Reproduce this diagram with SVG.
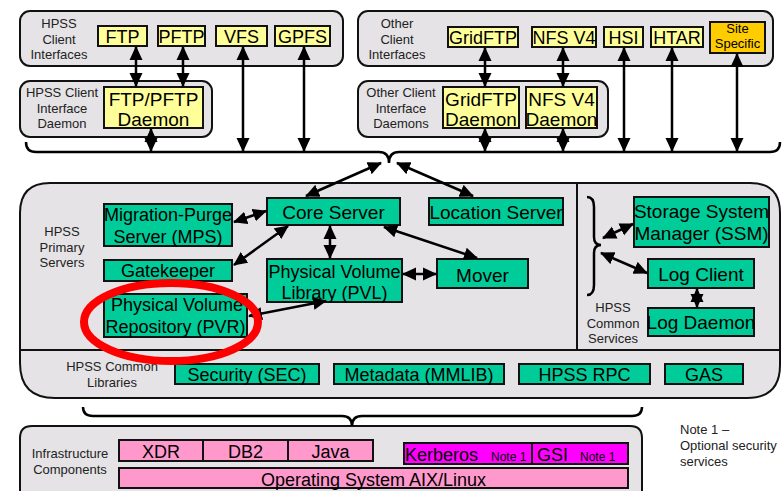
<svg xmlns="http://www.w3.org/2000/svg" width="782" height="491" viewBox="0 0 782 491">
<style>
text{font-family:"Liberation Sans",Arial,sans-serif;}
.grp{fill:#E5E3E5;stroke:#111;stroke-width:2;}
.lbl{font-size:13px;fill:#222;text-anchor:middle;}
.y{fill:#FFFF99;stroke:#111;stroke-width:2;}
.o{fill:#FFCC00;stroke:#111;stroke-width:2;}
.g{fill:#00CC99;stroke:#111;stroke-width:2;}
.p{fill:#FF99CC;stroke:#111;stroke-width:2;}
.m{fill:#FF00FF;stroke:#111;stroke-width:2;}
.t{font-size:18px;fill:#000;text-anchor:middle;}
.t19{font-size:19px;fill:#000;text-anchor:middle;}
.sm{font-size:12px;fill:#000;}
.ln{fill:none;stroke:#000;stroke-width:2.5;}
.ar{fill:none;stroke:#000;stroke-width:2.5;marker-start:url(#ah);marker-end:url(#ah);}
</style>
<defs>
<marker id="ah" viewBox="0 0 14 14" refX="13" refY="7" markerWidth="14" markerHeight="14" markerUnits="userSpaceOnUse" orient="auto-start-reverse">
<path d="M0,0.5 L14,7 L0,13.5 z" fill="#000"/>
</marker>
</defs>

<!-- group containers -->
<g id="grp-client-interfaces">
<rect class="grp" x="20" y="11" width="323" height="55" rx="10"/>
<text class="lbl" x="59" y="28">HPSS</text>
<text class="lbl" x="59" y="43.5">Client</text>
<text class="lbl" x="59" y="59">Interfaces</text>
</g>
<g id="grp-client-daemon">
<rect class="grp" x="20" y="81" width="192" height="56" rx="10"/>
<text class="lbl" x="62" y="97">HPSS Client</text>
<text class="lbl" x="62" y="112.5">Interface</text>
<text class="lbl" x="62" y="128">Daemon</text>
</g>
<g id="grp-other-interfaces">
<rect class="grp" x="358" y="11" width="415" height="55" rx="10"/>
<text class="lbl" x="397" y="28">Other</text>
<text class="lbl" x="397" y="43.5">Client</text>
<text class="lbl" x="397" y="59">Interfaces</text>
</g>
<g id="grp-other-daemons">
<rect class="grp" x="358" y="81" width="250" height="56" rx="10"/>
<text class="lbl" x="401" y="97">Other Client</text>
<text class="lbl" x="401" y="112.5">Interface</text>
<text class="lbl" x="401" y="128">Daemons</text>
</g>
<g id="grp-main">
<path class="grp" d="M50,183 L750,183 Q780,183 780,213 L780,365 Q780,398 747,398 L55,398 Q20,398 20,363 L20,213 Q20,183 50,183 Z"/>
<line x1="20" y1="350" x2="780" y2="350" stroke="#111" stroke-width="2"/>
<line x1="577" y1="183" x2="577" y2="350" stroke="#111" stroke-width="2"/>
<text class="lbl" x="62" y="236">HPSS</text>
<text class="lbl" x="62" y="252">Primary</text>
<text class="lbl" x="62" y="267">Servers</text>
<text class="lbl" x="613" y="312">HPSS</text>
<text class="lbl" x="613" y="328">Common</text>
<text class="lbl" x="613" y="343">Services</text>
<text class="lbl" x="112" y="371">HPSS Common</text>
<text class="lbl" x="112" y="387">Libraries</text>
</g>
<g id="grp-infra">
<path class="grp" d="M20,505 L20,438 Q20,426 32,426 L630,426 Q642,426 642,438 L642,505"/>
<text class="lbl" x="70" y="458">Infrastructure</text>
<text class="lbl" x="70" y="474">Components</text>
</g>

<!-- client interface nodes -->
<g id="n-ftp"><rect class="y" x="98" y="26" width="49" height="20"/><text class="t" x="122.5" y="42.5">FTP</text></g>
<g id="n-pftp"><rect class="y" x="158" y="26" width="47" height="20"/><text class="t" x="181.5" y="42.5">PFTP</text></g>
<g id="n-vfs"><rect class="y" x="216" y="26" width="51" height="20"/><text class="t" x="241.5" y="42.5">VFS</text></g>
<g id="n-gpfs"><rect class="y" x="275" y="26" width="55" height="20"/><text class="t" x="302.5" y="42.5">GPFS</text></g>
<g id="n-ftpd"><rect class="y" x="104" y="87" width="99" height="41"/><text class="t19" x="153.5" y="106">FTP/PFTP</text><text class="t19" x="153.5" y="125.5">Daemon</text></g>
<g id="n-gridftp"><rect class="y" x="448" y="27" width="70" height="20"/><text class="t" x="483" y="43.5">GridFTP</text></g>
<g id="n-nfs"><rect class="y" x="532" y="27" width="64" height="20"/><text class="t" x="564" y="43.5">NFS V4</text></g>
<g id="n-hsi"><rect class="y" x="604" y="27" width="39" height="20"/><text class="t" x="623.5" y="43.5">HSI</text></g>
<g id="n-htar"><rect class="y" x="651" y="27" width="52" height="20"/><text class="t" x="677" y="43.5">HTAR</text></g>
<g id="n-site"><rect class="o" x="710" y="22" width="55" height="31"/><text class="lbl" x="737.5" y="33" style="fill:#000">Site</text><text class="lbl" x="737.5" y="48" style="fill:#000">Specific</text></g>
<g id="n-gridftpd"><rect class="y" x="443" y="87" width="76" height="41"/><text class="t19" x="481" y="106">GridFTP</text><text class="t19" x="481" y="125.5">Daemon</text></g>
<g id="n-nfsd"><rect class="y" x="526" y="87" width="71" height="41"/><text class="t19" x="561.5" y="106">NFS V4</text><text class="t19" x="561.5" y="125.5">Daemon</text></g>

<!-- primary servers -->
<g id="n-mps"><rect class="g" x="104" y="204" width="128" height="42"/><text class="t" x="168" y="220.5">Migration-Purge</text><text class="t" x="168" y="243">Server (MPS)</text></g>
<g id="n-core"><rect class="g" x="267" y="198" width="133" height="27"/><text class="t19" x="333.5" y="219">Core Server</text></g>
<g id="n-location"><rect class="g" x="429" y="198" width="134" height="27"/><text class="t19" x="496" y="219">Location Server</text></g>
<g id="n-gatekeeper"><rect class="g" x="104" y="260" width="128" height="21"/><text class="t" x="168" y="277">Gatekeeper</text></g>
<g id="n-pvl"><rect class="g" x="267" y="259" width="135" height="43"/><text class="t" x="334.5" y="277.5">Physical Volume</text><text class="t" x="334.5" y="298.5">Library (PVL)</text></g>
<g id="n-mover"><rect class="g" x="437" y="259" width="91" height="29"/><text class="t19" x="482.5" y="281.5">Mover</text></g>
<g id="n-pvr"><rect class="g" x="104" y="294" width="143" height="43"/><text class="t" x="177" y="310.5">Physical Volume</text><text class="t" x="175.5" y="333">Repository (PVR)</text></g>
<g id="n-ssm"><rect class="g" x="634" y="197" width="135" height="50"/><text class="t19" x="701.5" y="218">Storage System</text><text class="t19" x="701.5" y="240">Manager (SSM)</text></g>
<g id="n-logclient"><rect class="g" x="648" y="259" width="106" height="29"/><text class="t19" x="701" y="281">Log Client</text></g>
<g id="n-logdaemon"><rect class="g" x="648" y="308" width="106" height="28"/><text class="t19" x="701" y="329">Log Daemon</text></g>

<!-- libraries -->
<g id="n-sec"><rect class="g" x="175" y="364" width="144" height="20"/><text class="t" x="247" y="381">Security (SEC)</text></g>
<g id="n-meta"><rect class="g" x="334" y="364" width="170" height="20"/><text class="t" x="419" y="381">Metadata (MMLIB)</text></g>
<g id="n-rpc"><rect class="g" x="519" y="364" width="131" height="20"/><text class="t" x="584.5" y="381">HPSS RPC</text></g>
<g id="n-gas"><rect class="g" x="665" y="364" width="78" height="20"/><text class="t" x="704" y="381">GAS</text></g>

<!-- infrastructure -->
<g id="n-xdr"><rect class="p" x="119" y="440" width="84" height="21"/><text class="t" x="161" y="457.5">XDR</text></g>
<g id="n-db2"><rect class="p" x="203" y="440" width="85" height="21"/><text class="t" x="245.5" y="457.5">DB2</text></g>
<g id="n-java"><rect class="p" x="288" y="440" width="85" height="21"/><text class="t" x="330.5" y="457.5">Java</text></g>
<g id="n-kerberos"><rect class="m" x="404" y="443" width="128" height="21"/><text class="t" x="405" y="461" style="text-anchor:start">Kerberos</text><text class="sm" x="491" y="461">Note 1</text></g>
<g id="n-gsi"><rect class="m" x="532" y="443" width="96" height="21"/><text class="t" x="537" y="461" style="text-anchor:start">GSI</text><text class="sm" x="580" y="461">Note 1</text></g>
<g id="n-os"><rect class="p" x="119" y="468" width="509" height="20"/><text class="t" x="373.5" y="485.5">Operating System AIX/Linux</text></g>

<!-- note -->
<g id="note">
<text class="lbl" x="680" y="434" style="text-anchor:start">Note 1 –</text>
<text class="lbl" x="680" y="450" style="text-anchor:start">Optional security</text>
<text class="lbl" x="680" y="465.5" style="text-anchor:start">services</text>
</g>

<!-- connectors -->
<g id="connectors">
<path class="ln" d="M26,142 Q26,152 36,152 L379,152 Q389,152 389,163 Q389,152 399,152 L770,152 Q780,152 780,142"/>
<path class="ln" d="M587,197 Q594,197 594,207 L594,237 Q594,245 601,245 Q594,245 594,253 L594,285 Q594,295 587,295"/>
<path class="ln" d="M83,407 Q83,416 93,416 L342,416 Q352,416 352,426 Q352,416 362,416 L632,416 Q642,416 642,407"/>
<line class="ar" x1="136" y1="47" x2="136" y2="86"/>
<line class="ar" x1="183" y1="47" x2="183" y2="86"/>
<line class="ar" x1="151" y1="129" x2="151" y2="151"/>
<line class="ar" x1="243" y1="47" x2="243" y2="151"/>
<line class="ar" x1="304" y1="47" x2="304" y2="151"/>
<line class="ar" x1="485" y1="48" x2="485" y2="86"/>
<line class="ar" x1="485" y1="129" x2="485" y2="151"/>
<line class="ar" x1="563" y1="48" x2="563" y2="86"/>
<line class="ar" x1="563" y1="129" x2="563" y2="151"/>
<line class="ar" x1="624" y1="48" x2="624" y2="151"/>
<line class="ar" x1="672" y1="48" x2="672" y2="151"/>
<line class="ar" x1="737" y1="54" x2="737" y2="151"/>
<line class="ar" x1="381" y1="163" x2="306" y2="196"/>
<line class="ar" x1="397" y1="163" x2="473" y2="196"/>
<line class="ar" x1="234" y1="222" x2="266" y2="211"/>
<line class="ar" x1="234" y1="265" x2="288" y2="226"/>
<line class="ar" x1="330" y1="226" x2="330" y2="258"/>
<line class="ar" x1="384" y1="227" x2="477" y2="258"/>
<line class="ar" x1="403" y1="274" x2="436" y2="274"/>
<line class="ar" x1="249" y1="316" x2="326" y2="301"/>
<line class="ar" x1="603" y1="238" x2="633" y2="224"/>
<line class="ar" x1="601" y1="253" x2="647" y2="273"/>
<line class="ar" x1="697" y1="289" x2="697" y2="307"/>
</g>

<!-- highlight -->
<ellipse cx="171" cy="322" rx="87" ry="39" fill="none" stroke="#FF0000" stroke-width="8"/>
</svg>
